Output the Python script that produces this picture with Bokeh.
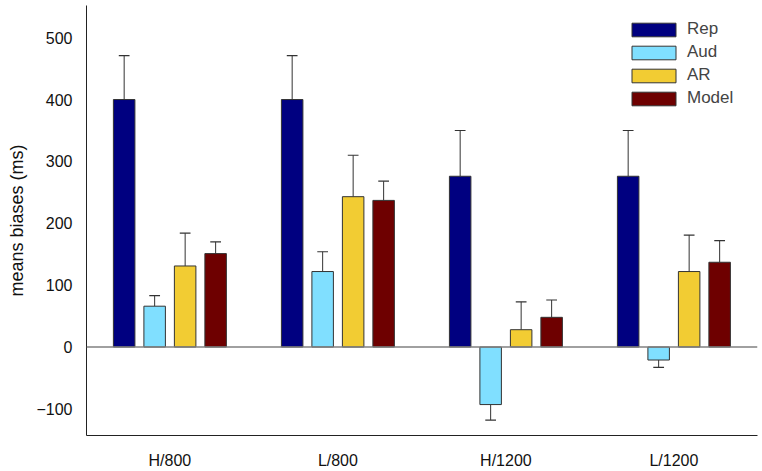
import numpy as np
from bokeh.plotting import figure
from bokeh.models import FixedTicker, Span, Legend, LegendItem
from bokeh.embed import file_html
from bokeh.resources import INLINE

groups = ["H/800", "L/800", "H/1200", "L/1200"]
series = ["Rep", "Aud", "AR", "Model"]
rep = [400, 400, 276, 276]
aud = [66, 122, -93, -21]
ar = [131, 243, 28, 122]
model = [151, 237, 48, 137]
rep_err = [71, 71, 74, 74]
aud_err = [17, 32, 25, 12]
ar_err = [53, 67, 45, 59]
model_err = [19, 31, 28, 35]
colors = ["#000080", "#80DFFF", "#F2CC33", "#6E0000"]
y_ticks = [-100, 0, 100, 200, 300, 400, 500]

values = [rep, aud, ar, model]
errors = [rep_err, aud_err, ar_err, model_err]

FONT = "Liberation Sans"
FRAME_H = 430

p = figure(width=760, height=471, output_backend="svg", toolbar_location=None,
           x_range=(0.5036, 4.4976), y_range=(-143, 552),
           min_border_left=86, min_border_right=3, min_border_top=5, min_border_bottom=31)
p.outline_line_color = None
p.xgrid.grid_line_color = None
p.ygrid.grid_line_color = None

p.add_layout(Span(location=0, dimension="width", line_color="#808080", line_width=1.5))

pitch = 0.1815
bw = 0.128
cap = 0.032
base_x = np.arange(1, len(groups) + 1)
items = []
for i, (name, vals, errs, col) in enumerate(zip(series, values, errors, colors)):
    xs = base_x + (i - 1.5) * pitch
    vals = np.array(vals, dtype=float)
    errs = np.array(errs, dtype=float)
    ends = vals + np.sign(vals) * errs
    p.segment(xs, vals, xs, ends, line_color="#333333", line_width=1)
    p.segment(xs - cap, ends, xs + cap, ends, line_color="#333333", line_width=1.2)
    r = p.vbar(x=xs, top=vals, bottom=0, width=bw, fill_color=col,
               line_color="#333333", line_width=1)
    items.append(LegendItem(label=name, renderers=[r]))

ROW_H = 20
LEG_H = 4 * ROW_H + 3 * 3
legend = Legend(items=items, location=(540, FRAME_H - 14 - LEG_H), padding=0, margin=0,
                glyph_width=55, glyph_height=17, label_height=17, spacing=3,
                label_standoff=6, border_line_alpha=0, background_fill_alpha=0,
                label_text_font=FONT, label_text_font_size="17px")
p.add_layout(legend)

p.xaxis.ticker = FixedTicker(ticks=list(base_x))
p.xaxis.major_label_overrides = {int(k): g for k, g in zip(base_x, groups)}
p.yaxis.ticker = FixedTicker(ticks=y_ticks)
p.yaxis.major_label_overrides = {t: (str(t).replace("-", "\u2212")) for t in y_ticks}
for ax in (p.xaxis, p.yaxis):
    ax.major_tick_line_color = None
    ax.minor_tick_line_color = None
    ax.axis_line_color = "#222222"
    ax.axis_line_width = 1
    ax.major_label_text_font = FONT
    ax.major_label_text_font_size = "16px"
    ax.major_label_text_color = "#111111"
p.xaxis.major_label_standoff = 10
p.yaxis.major_label_standoff = 8
p.yaxis.axis_label = "means biases (ms)"
p.yaxis.axis_label_text_font = FONT
p.yaxis.axis_label_text_font_size = "18px"
p.yaxis.axis_label_text_font_style = "normal"
p.yaxis.axis_label_text_color = "#111111"
p.yaxis.axis_label_standoff = 6

open("out.html", "w").write(file_html(p, INLINE))
